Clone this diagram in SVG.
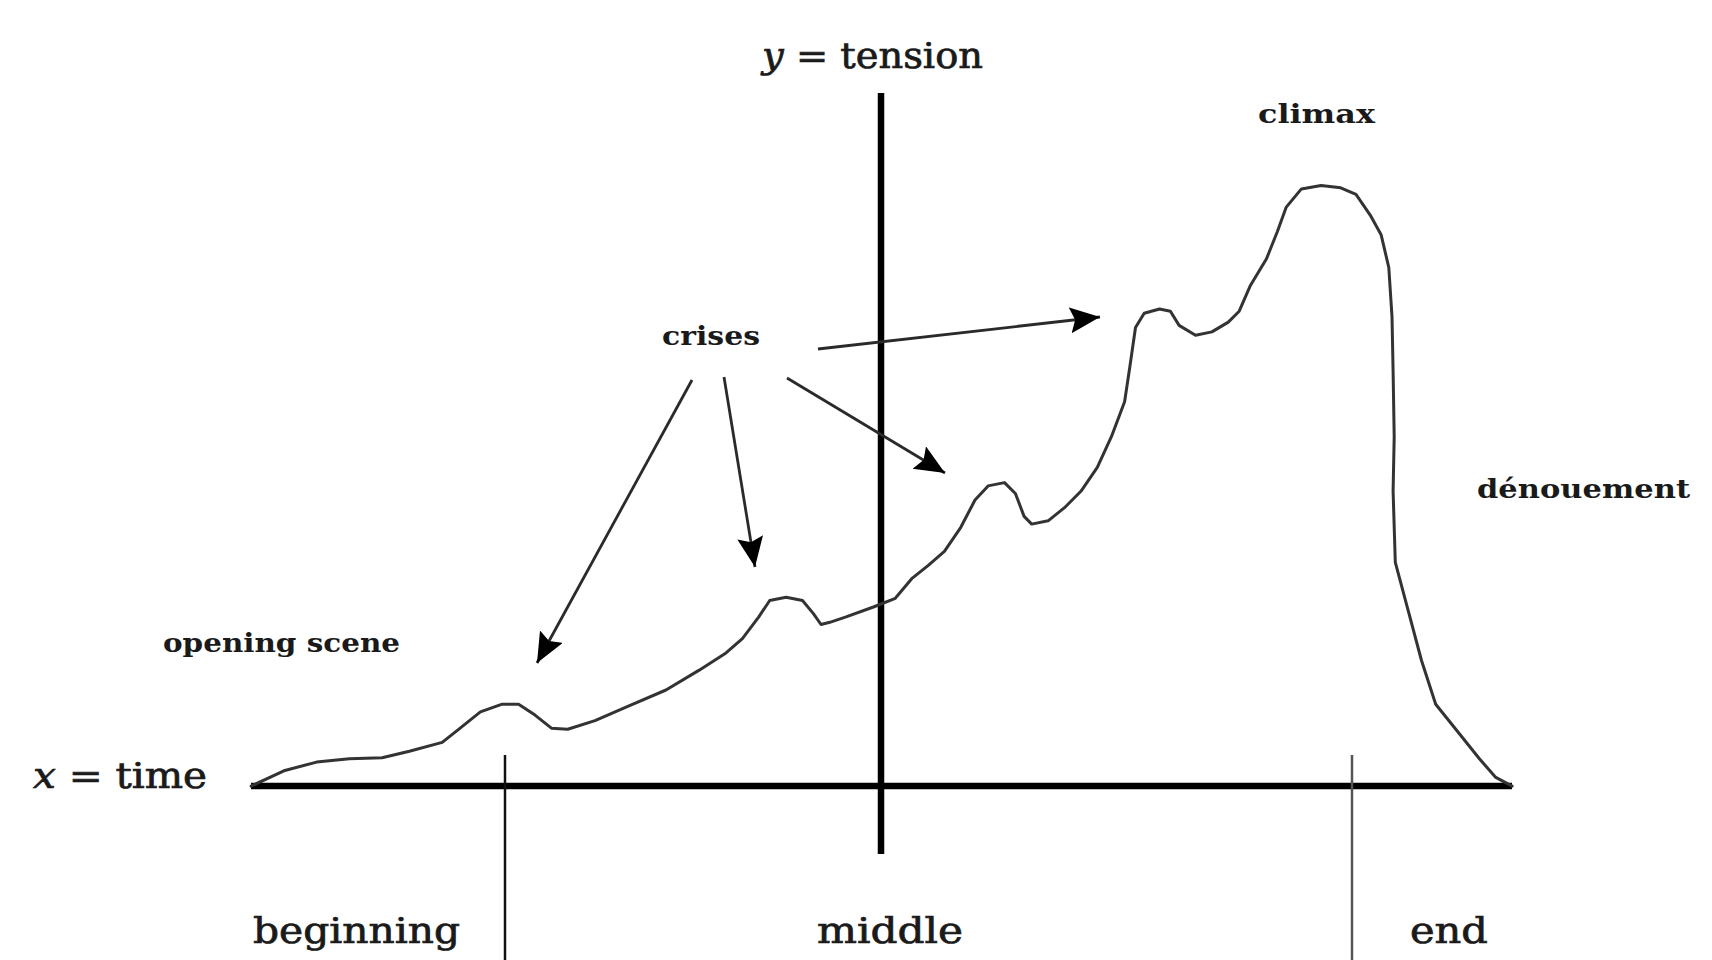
<svg xmlns="http://www.w3.org/2000/svg" width="1712" height="960" viewBox="0 0 1712 960">
<style>
.lbl{font-family:"DejaVu Serif","Liberation Serif",serif;fill:#1a1a1a}
.big{font-size:35px;stroke:#1a1a1a;stroke-width:0.7}
.small{font-size:26px;font-weight:bold}
.axis{stroke:#000;stroke-width:6.5;fill:none}
.tick{stroke:#111;stroke-width:2.5;fill:none}
.arrow{stroke:#2a2a2a;stroke-width:2.8;fill:none;marker-end:url(#ah)}
.curve{stroke:#333;stroke-width:3;fill:none;stroke-linejoin:round;stroke-linecap:round}
</style>
<defs>
<marker id="ah" markerUnits="userSpaceOnUse" markerWidth="34" markerHeight="28" refX="30" refY="13" orient="auto">
<path d="M0,0 L30,13 L0,26 L5,13 Z" fill="#000"/>
</marker>
</defs>
<rect width="1712" height="960" fill="#fff"/>
<g id="axes">
<line class="axis" x1="881" y1="93" x2="881" y2="854"/>
<line class="axis" x1="251" y1="786" x2="1512" y2="786"/>
<line class="tick" x1="505" y1="755" x2="505" y2="960"/>
<line class="tick" x1="1352" y1="755" x2="1352" y2="960" style="stroke:#555"/>
</g>
<g id="tension-curve">
<polyline class="curve" points="251.1,786.1 283.9,770.8 316.6,762.1 349.4,758.8 382.1,757.7 409.4,751.2 442.2,742.4 458.6,729.3 480.4,711.9 502.2,704.2 518.6,704.2 535,715.1 551.4,728.2 567.7,729.3 595,720.6 627.8,706.4 666,690 698.8,670.4 726,652.9 742.4,638.7 758.8,616.9 769.7,600.5 786.1,597.2 802.5,600.5 813.4,613.6 821,624.5 829.8,622.3 846.1,616.9 873.4,607 895.3,598.3 911.7,578.7 928,565.6 944.4,551.4 960.8,527.3 975,500 988.1,485.9 1004.5,482.6 1015.4,493.5 1024.1,516.4 1031.7,524.1 1048.1,520.8 1064.5,507.7 1080.9,491.3 1097.3,467.3 1111.4,436.7 1124.6,401.8 1130,365.8 1135.5,327.5 1144.2,313.3 1159.5,309 1170.4,311.2 1179.1,325.4 1195.5,335.2 1211.9,331.9 1228.3,322.1 1239.2,311.2 1250.1,286.1 1266.5,258.8 1277.4,231.5 1286.1,207.4 1301.4,188.9 1321.1,185.6 1340.7,187.8 1356,194.3 1370.2,215.1 1381.1,234.7 1388.8,267.5 1392,316.6 1393.1,371.2 1394.2,436.7 1393.1,491.3 1395.3,562.3 1408.4,611.4 1421.5,660.5 1435.7,704.2 1457.6,731.5 1479.4,758.8 1495.8,777.4 1512.1,786.1"/>
</g>
<g id="connectors">
<line class="arrow" x1="692" y1="380" x2="537" y2="663"/>
<line class="arrow" x1="724" y1="377" x2="755" y2="567"/>
<line class="arrow" x1="787" y1="378" x2="945" y2="473"/>
<line class="arrow" x1="818" y1="349" x2="1100" y2="317"/>
</g>
<g id="label-tension"><text class="lbl big" x="762" y="68" textLength="221" lengthAdjust="spacingAndGlyphs"><tspan font-style="italic">y</tspan> = tension</text></g>
<g id="label-climax"><text class="lbl small" x="1258" y="123" textLength="117" lengthAdjust="spacingAndGlyphs">climax</text></g>
<g id="label-crises"><text class="lbl small" x="662" y="345" textLength="98" lengthAdjust="spacingAndGlyphs">crises</text></g>
<g id="label-opening"><text class="lbl small" x="163" y="652" textLength="237" lengthAdjust="spacingAndGlyphs">opening scene</text></g>
<g id="label-denouement"><text class="lbl small" x="1477" y="498" textLength="213" lengthAdjust="spacingAndGlyphs">dénouement</text></g>
<g id="label-time"><text class="lbl big" x="33" y="788" textLength="174" lengthAdjust="spacingAndGlyphs"><tspan font-style="italic">x</tspan> = time</text></g>
<g id="label-beginning"><text class="lbl big" x="253" y="943" textLength="207" lengthAdjust="spacingAndGlyphs">beginning</text></g>
<g id="label-middle"><text class="lbl big" x="817" y="943" textLength="146" lengthAdjust="spacingAndGlyphs">middle</text></g>
<g id="label-end"><text class="lbl big" x="1410" y="943" textLength="78" lengthAdjust="spacingAndGlyphs">end</text></g>
</svg>
